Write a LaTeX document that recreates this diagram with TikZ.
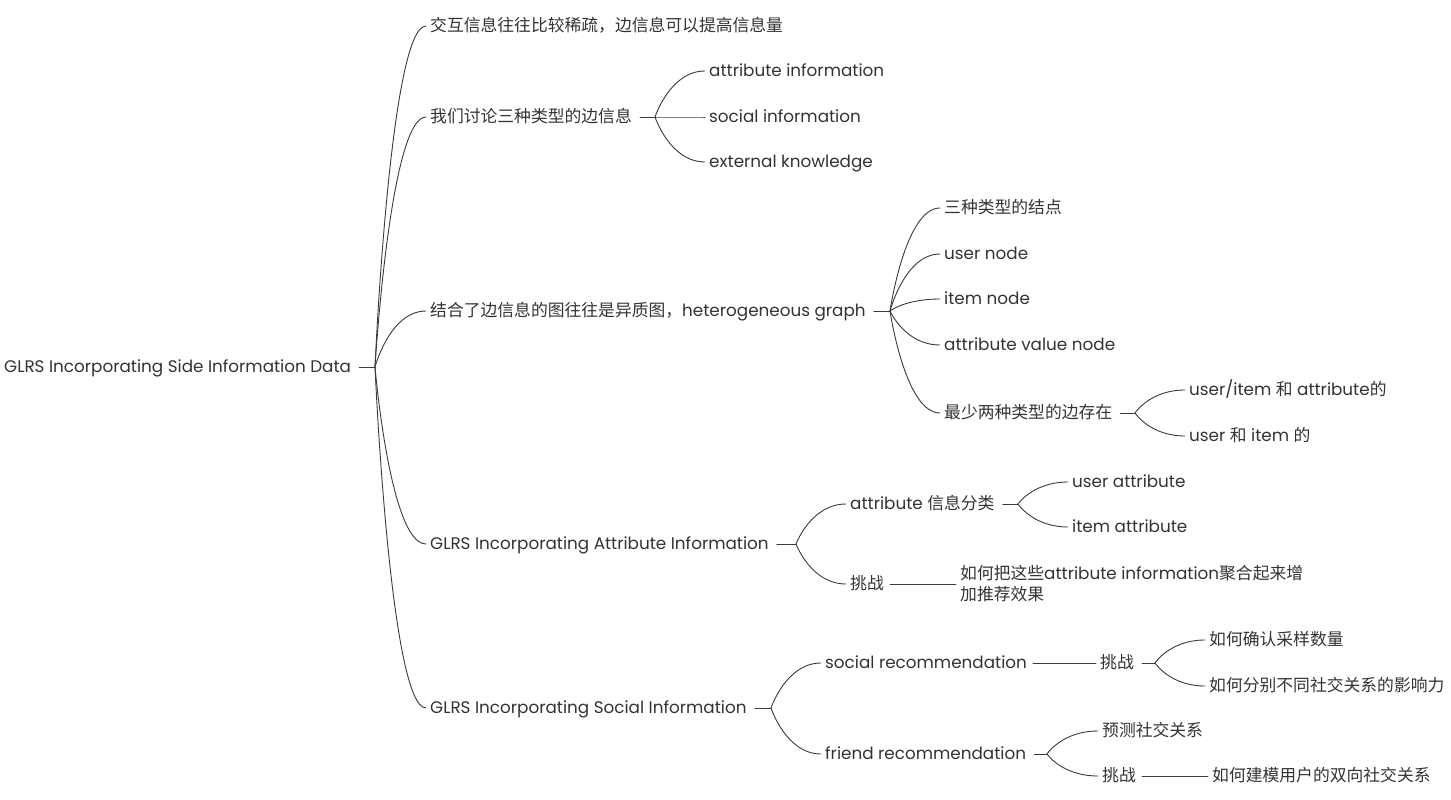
\documentclass[tikz,border=0pt]{standalone}
\usepackage{fontspec}
\setmainfont{Poppins}[Scale=1.0]
\newfontfamily\cjk{Noto Sans CJK SC}
\usepackage{tikz}
\usetikzlibrary{calc}
\definecolor{ink}{HTML}{333333}
\definecolor{wire}{HTML}{3A3A3A}
\newcommand{\zh}[1]{{\cjk #1}}
\tikzset{
  topic/.style={anchor=west, inner xsep=4pt, inner ysep=0pt, text=ink,
    text height=12pt, text depth=1pt, font=\fontsize{16.8}{21}\selectfont},
  para/.style={anchor=west, inner xsep=4pt, inner ysep=0pt, text=ink, align=left,
    font=\fontsize{16.8}{21}\selectfont},
  link/.style={draw=wire, line width=0.9pt, line cap=round},
}

\begin{document}
\begin{tikzpicture}[x=1pt, y=-1pt]
  \useasboundingbox (0,0) rectangle (1451,800);
  % main topic
  \node[topic] (root) at (0,367) {GLRS Incorporating Side Information Data};
  % first level
  \node[topic] (inter)  at (426,26)  {\zh{交互信息往往比较稀疏，边信息可以提高信息量}};
  \node[topic] (kinds)  at (426,117) {\zh{我们讨论三种类型的边信息}};
  \node[topic] (hetero) at (426,311) {\zh{结合了边信息的图往往是异质图，}heterogeneous graph\hspace{6pt}};
  \node[topic] (attr)   at (426,544) {GLRS Incorporating Attribute Information};
  \node[topic] (social) at (426,708) {GLRS Incorporating Social Information};
  % side information kinds
  \node[topic] (kattr) at (705,71)  {attribute information};
  \node[topic] (ksoc)  at (705,117) {social information};
  \node[topic] (kext)  at (705,162) {external knowledge};
  % heterogeneous graph
  \node[topic] (tnode) at (940,208) {\zh{三种类型的结点}};
  \node[topic] (unode) at (940,254) {user node};
  \node[topic] (inode) at (940,299) {item node};
  \node[topic] (vnode) at (940,345) {attribute value node};
  \node[topic] (edge)  at (940,413) {\zh{最少两种类型的边存在}};
  \node[topic] (eua) at (1185,390) {user/item \zh{和} attribute\zh{的}};
  \node[topic] (eui) at (1185,436) {user \zh{和} item \zh{的}};
  % attribute information
  \node[topic] (acls)  at (846,504) {attribute \zh{信息分类}};
  \node[topic] (achal) at (846,584) {\zh{挑战}};
  \node[topic] (uattr) at (1068,482) {user attribute};
  \node[topic] (iattr) at (1068,527) {item attribute};
  \node[para]  (aagg)  at (956,584) {\zh{如何把这些}attribute information\zh{聚合起来增}\\\zh{加推荐效果}};
  % social information
  \node[topic] (srec)  at (821,663) {social recommendation};
  \node[topic] (frec)  at (821,754) {friend recommendation};
  \node[topic] (schal) at (1096,663) {\zh{挑战}};
  \node[topic] (ssamp) at (1205,640) {\zh{如何确认采样数量}};
  \node[topic] (sinf)  at (1205,686) {\zh{如何分别不同社交关系的影响力}};
  \node[topic] (fpred) at (1098,731) {\zh{预测社交关系}};
  \node[topic] (fchal) at (1098,776) {\zh{挑战}};
  \node[topic] (fbid)  at (1208,776) {\zh{如何建模用户的双向社交关系}};

  % fans
  \foreach \j/\jx/\jy/\p/\kids in {
      j0/375/367/root/{inter,kinds,hetero,attr,social},
      j2/655/117/kinds/{kattr,ksoc,kext},
      j3/890/311/hetero/{tnode,unode,inode,vnode,edge},
      j35/1135/413/edge/{eua,eui},
      j4/796/544/attr/{acls,achal},
      j41/1018/504/acls/{uattr,iattr},
      j5/771/708/social/{srec,frec},
      j51/1155/663/schal/{ssamp,sinf},
      j52/1047/754/frec/{fpred,fchal}} {
    \coordinate (\j) at (\jx,\jy);
    \draw[link] ($(\p.east)+(4,0)$) -- (\j);
    \foreach \k in \kids
      \draw[link] (\j) .. controls (\j) and ($(\j|-\k.west)+(15,0)$) .. (\k.west);
  }
  % single links
  \foreach \a/\b in {achal/aagg, srec/schal, fchal/fbid}
    \draw[link] ($(\a.east)+(2,0)$) -- (\b.west);
\end{tikzpicture}
\end{document}
